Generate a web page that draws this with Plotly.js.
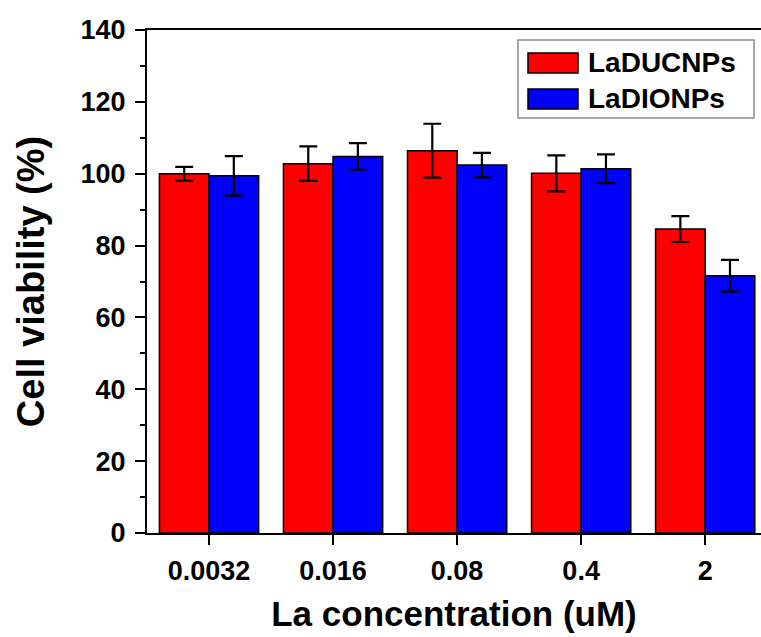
<!DOCTYPE html>
<html>
<head>
<meta charset="utf-8">
<script src="https://cdn.plot.ly/plotly-3.0.1.min.js"></script>
<style>html,body{margin:0;padding:0;background:#fff;}#chart{width:761px;height:637px;}</style>
</head>
<body>
<div id="chart"></div>
<script>
// ---- data ----
const categories = ["0.0032", "0.016", "0.08", "0.4", "2"];
const seriesNames = ["LaDUCNPs", "LaDIONPs"];
const laducnpValues = [100.0, 102.8, 106.4, 100.1, 84.6];
const laducnpErrors = [1.9, 4.8, 7.5, 5.0, 3.6];
const ladionpValues = [99.4, 104.8, 102.4, 101.4, 71.6];
const ladionpErrors = [5.5, 3.7, 3.4, 4.0, 4.4];
const yTickValues = [0, 20, 40, 60, 80, 100, 120, 140];

const colors = ["#ff0000", "#0000ff"];
const FONT = "Liberation Sans, Arial, Helvetica, sans-serif";

function barTrace(name, y, err, color) {
  return {
    type: "bar", name: name, x: categories, y: y,
    marker: {color: color, line: {color: "#000", width: 1.5}},
    error_y: {type: "data", array: err, visible: true, color: "#000", thickness: 2.2, width: 9},
    showlegend: false, hoverinfo: "x+y"
  };
}

const data = [
  barTrace(seriesNames[0], laducnpValues, laducnpErrors, colors[0]),
  barTrace(seriesNames[1], ladionpValues, ladionpErrors, colors[1])
];

// plot area in pixels: left 147, right 761, top 30, bottom 533
const L = 147, R = 761, T = 30, B = 533;
const px = x => (x - L) / (R - L);
const py = y => (B - y) / (B - T);

const shapes = [
  {type: "rect", xref: "paper", yref: "paper", x0: px(518), x1: px(754), y0: py(118), y1: py(40),
   line: {color: "#8c8c8c", width: 1.5}, fillcolor: "#fff", layer: "above"},
  {type: "rect", xref: "paper", yref: "paper", x0: px(528), x1: px(578), y0: py(73), y1: py(53),
   line: {color: "#000", width: 1.5}, fillcolor: colors[0], layer: "above"},
  {type: "rect", xref: "paper", yref: "paper", x0: px(528), x1: px(578), y0: py(109), y1: py(89),
   line: {color: "#000", width: 1.5}, fillcolor: colors[1], layer: "above"}
];
const annotations = [
  {xref: "paper", yref: "paper", x: px(586), y: py(63), xanchor: "left", yanchor: "middle",
   text: seriesNames[0], showarrow: false, font: {family: FONT, size: 28, weight: "bold", color: "#000"}},
  {xref: "paper", yref: "paper", x: px(586), y: py(99), xanchor: "left", yanchor: "middle",
   text: seriesNames[1], showarrow: false, font: {family: FONT, size: 28, weight: "bold", color: "#000"}}
];

const layout = {
  width: 761, height: 637,
  margin: {l: L, r: 761 - R, t: T, b: 637 - B, pad: 0},
  paper_bgcolor: "#fff", plot_bgcolor: "#fff",
  barmode: "group", bargap: 0.2, bargroupgap: 0,
  showlegend: false,
  font: {family: FONT, color: "#000"},
  xaxis: {
    type: "category", categoryorder: "array", categoryarray: categories,
    range: [-0.5, 4.45],
    showline: true, linecolor: "#000", linewidth: 2, mirror: true,
    ticks: "outside", ticklen: 10, tickwidth: 2, tickcolor: "#000",
    ticklabelstandoff: 3,
    tickfont: {family: FONT, size: 27, weight: "bold", color: "#000"},
    showgrid: false, zeroline: false,
    title: {text: "La concentration (uM)", font: {family: FONT, size: 35, weight: "bold", color: "#000"}, standoff: 16},
    automargin: false
  },
  yaxis: {
    range: [0, 140], tickvals: yTickValues,
    showline: true, linecolor: "#000", linewidth: 2, mirror: false,
    ticks: "outside", ticklen: 10, tickwidth: 2, tickcolor: "#000",
    minor: {dtick: 10, ticks: "outside", ticklen: 5, tickwidth: 2, tickcolor: "#000", showgrid: false},
    ticklabelstandoff: 4,
    tickfont: {family: FONT, size: 27, weight: "bold", color: "#000"},
    showgrid: false, zeroline: false,
    title: {text: "Cell viability (%)", font: {family: FONT, size: 38, weight: "bold", color: "#000"}, standoff: 24},
    automargin: false
  },
  shapes: shapes,
  annotations: annotations
};

Plotly.newPlot("chart", data, layout, {displayModeBar: false, staticPlot: true});
</script>
</body>
</html>
